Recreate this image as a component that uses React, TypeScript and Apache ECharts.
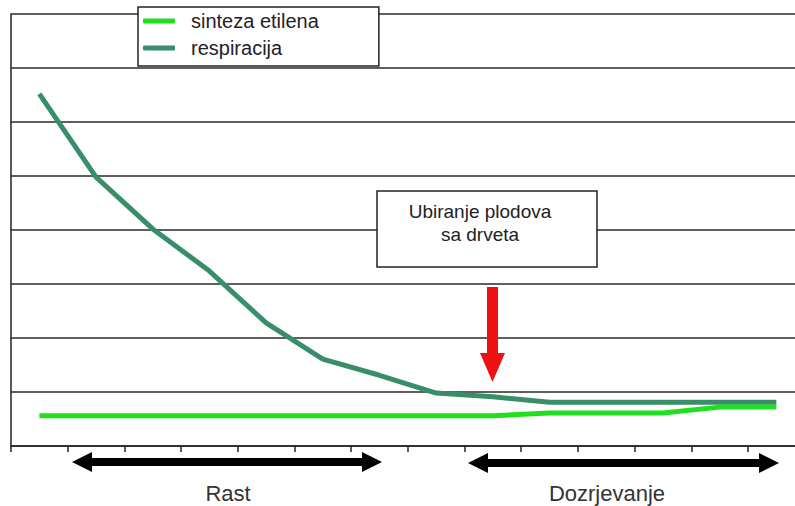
import React, { useEffect, useRef } from "react";
import * as echarts from "echarts";

const categories = ["1", "2", "3", "4", "5", "6", "7", "8", "9", "10", "11", "12", "13", "14"];
const seriesNames = ["sinteza etilena", "respiracija"];
const sintezaEtilena = [0.56, 0.56, 0.56, 0.56, 0.56, 0.56, 0.56, 0.56, 0.56, 0.61, 0.61, 0.61, 0.72, 0.72];
const respiracija = [6.52, 4.98, 4.02, 3.24, 2.28, 1.61, 1.31, 0.98, 0.91, 0.81, 0.81, 0.81, 0.81, 0.81];
const yMin = 0;
const yMax = 8;
const yInterval = 1;
const calloutLines = ["Ubiranje plodova", "sa drveta"];
const phaseLabels = ["Rast", "Dozrjevanje"];

const FONT = '"Liberation Sans", Arial, sans-serif';

function doubleArrow(x1: number, x2: number, cy: number) {
  const L = 20, H = 10, h = 4;
  return [
    [x1, cy], [x1 + L, cy - H], [x1 + L, cy - h], [x2 - L, cy - h], [x2 - L, cy - H],
    [x2, cy], [x2 - L, cy + H], [x2 - L, cy + h], [x1 + L, cy + h], [x1 + L, cy + H],
  ];
}

export default function App() {
  const ref = useRef<HTMLDivElement>(null);
  useEffect(() => {
    if (!ref.current) return;
    const chart = echarts.init(ref.current, null, { renderer: "svg" });
    chart.setOption({
      animation: false,
      backgroundColor: "#ffffff",
      grid: { left: 11, top: 14, width: 793.7, height: 432, containLabel: false, outerBoundsMode: "none" },
      legend: {
        data: seriesNames,
        orient: "vertical",
        left: 138,
        top: 7,
        icon: "roundRect",
        itemWidth: 32,
        itemHeight: 5,
        itemGap: 7,
        padding: [4, 60, 8, 5],
        backgroundColor: "#ffffff",
        borderColor: "#222222",
        borderWidth: 1.5,
        borderRadius: 0,
        textStyle: { fontFamily: FONT, fontSize: 20, color: "#222222", lineHeight: 20, padding: [0, 0, 0, 11] },
        selectedMode: false,
      },
      xAxis: {
        type: "category",
        data: categories,
        boundaryGap: true,
        axisLine: { show: true, lineStyle: { color: "#222222", width: 1.5 } },
        axisTick: { show: true, length: 6, lineStyle: { color: "#222222", width: 1.5 } },
        axisLabel: { show: false },
        splitLine: { show: false },
      },
      yAxis: {
        type: "value",
        min: yMin,
        max: yMax,
        interval: yInterval,
        axisLine: { show: true, lineStyle: { color: "#222222", width: 1.5 } },
        axisTick: { show: false },
        axisLabel: { show: false },
        splitLine: { show: true, lineStyle: { color: "#2a2a2a", width: 1.5 } },
      },
      series: [
        {
          name: seriesNames[1],
          type: "line",
          data: respiracija,
          symbol: "none",
          itemStyle: { color: "#388e68" },
          lineStyle: { color: "#388e68", width: 5 },
          z: 2,
        },
        {
          name: seriesNames[0],
          type: "line",
          data: sintezaEtilena,
          symbol: "none",
          itemStyle: { color: "#1fe01f" },
          lineStyle: { color: "#1fe01f", width: 5 },
          z: 3,
        },
      ],
      graphic: [
        {
          type: "rect",
          shape: { x: 377, y: 191, width: 220, height: 76 },
          style: { fill: "#ffffff", stroke: "#222222", lineWidth: 1.5 },
          z: 10,
        },
        {
          type: "text",
          x: 480,
          y: 200,
          style: {
            text: calloutLines.join("\n"),
            fontFamily: FONT,
            fontSize: 19,
            lineHeight: 23,
            fill: "#222222",
            align: "center",
            verticalAlign: "top",
          },
          z: 11,
        },
        {
          type: "polygon",
          shape: {
            points: [
              [487, 287], [498, 287], [498, 353], [505, 353], [492.5, 382], [480, 353], [487, 353],
            ],
          },
          style: { fill: "#ee1111" },
          z: 10,
        },
        {
          type: "polygon",
          shape: { points: doubleArrow(72, 382, 462) },
          style: { fill: "#000000" },
          z: 10,
        },
        {
          type: "polygon",
          shape: { points: doubleArrow(468, 779, 463) },
          style: { fill: "#000000" },
          z: 10,
        },
        {
          type: "text",
          x: 228,
          y: 493,
          style: {
            text: phaseLabels[0],
            fontFamily: FONT,
            fontSize: 22,
            fill: "#333333",
            align: "center",
            verticalAlign: "middle",
          },
          z: 10,
        },
        {
          type: "text",
          x: 607,
          y: 493,
          style: {
            text: phaseLabels[1],
            fontFamily: FONT,
            fontSize: 22,
            fill: "#333333",
            align: "center",
            verticalAlign: "middle",
          },
          z: 10,
        },
      ],
    });
    return () => chart.dispose();
  }, []);
  return (
    <div
      ref={ref}
      style={{ position: "fixed", left: 0, top: 0, width: 795, height: 506, background: "#fff" }}
    />
  );
}
